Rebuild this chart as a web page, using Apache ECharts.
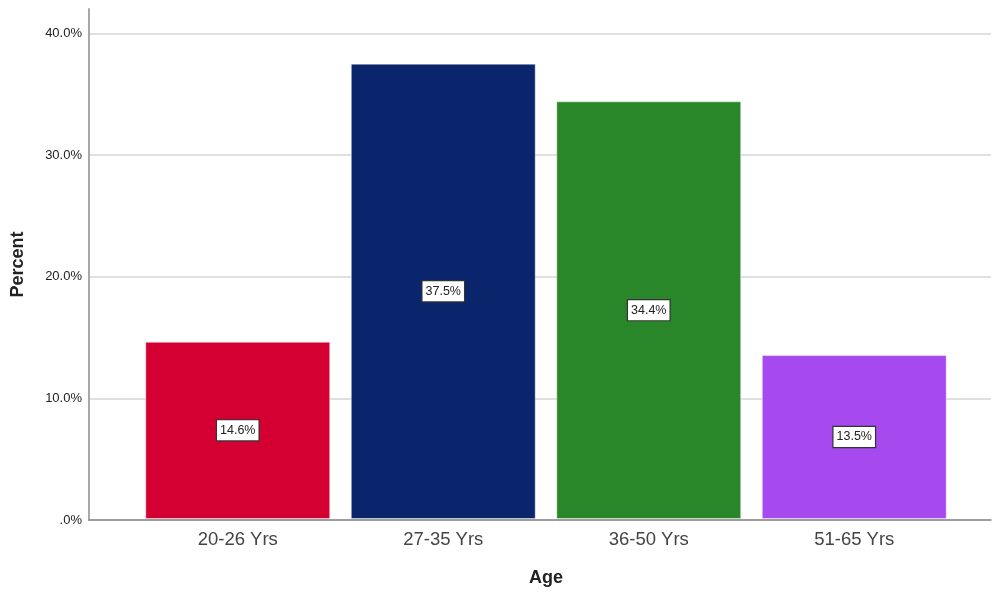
<!DOCTYPE html>
<html>
<head>
<meta charset="utf-8">
<script src="https://cdn.jsdelivr.net/npm/echarts@6/dist/echarts.min.js"></script>
<style>
  html, body { margin: 0; padding: 0; background: #ffffff; }
  #chart { width: 993px; height: 592px; }
</style>
</head>
<body>
<div id="chart"></div>
<script>
// Age groups and their share of respondents (percent)
const categories = ['20-26 Yrs', '27-35 Yrs', '36-50 Yrs', '51-65 Yrs'];
const percents = [14.6, 37.5, 34.4, 13.5];
const barColors = ['#D50032', '#0A256B', '#2A8729', '#A64AEF'];
const yTicks = [0, 10, 20, 30, 40];

const Y_MAX = 42;
const FONT = 'Liberation Sans, Arial, sans-serif';

const chart = echarts.init(document.getElementById('chart'), null, { renderer: 'canvas' });

const fmtPct = v => (v === 0 ? '.0%' : v.toFixed(1) + '%');

chart.setOption({
  animation: false,
  backgroundColor: '#ffffff',
  grid: [
    // frame grid: y axis, gridlines, baseline
    { left: 89, right: 2, top: 9, bottom: 72, containLabel: false },
    // bar grid: inset so the categories sit inside the frame
    { left: 135, right: 36, top: 9, bottom: 72, containLabel: false }
  ],
  xAxis: [
    {
      gridIndex: 0, type: 'value', min: 0, max: 1,
      axisLine: { show: true, onZero: false, lineStyle: { color: '#888888', width: 1.5 } },
      axisTick: { show: false }, axisLabel: { show: false }, splitLine: { show: false }
    },
    {
      gridIndex: 1, type: 'category', data: categories,
      axisLine: { show: false }, axisTick: { show: false },
      axisLabel: { color: '#444444', fontSize: 18.5, fontFamily: FONT, margin: 11 },
      name: 'Age', nameLocation: 'middle', nameGap: 50,
      nameTextStyle: { color: '#222222', fontSize: 18, fontWeight: 'bold', fontFamily: FONT }
    }
  ],
  yAxis: [
    {
      gridIndex: 0, type: 'value', min: 0, max: Y_MAX, interval: 10,
      axisLine: { show: true, lineStyle: { color: '#a8a8a8', width: 2 } },
      axisTick: { show: false },
      axisLabel: {
        color: '#222222', fontSize: 13, fontFamily: FONT, margin: 7,
        showMaxLabel: false,
        formatter: v => (yTicks.includes(v) ? fmtPct(v) : '')
      },
      splitLine: { show: true, showMaxLine: false, lineStyle: { color: '#d4d4d4', width: 1.5 } },
      name: 'Percent', nameLocation: 'middle', nameGap: 62, nameRotate: 90,
      nameTextStyle: { color: '#222222', fontSize: 18, fontWeight: 'bold', fontFamily: FONT }
    },
    {
      gridIndex: 1, type: 'value', min: 0, max: Y_MAX, interval: 10, show: false,
      splitLine: { show: false }
    }
  ],
  series: [
    {
      type: 'bar',
      xAxisIndex: 1, yAxisIndex: 1,
      barCategoryGap: '10%',
      data: percents.map((v, i) => ({
        value: v,
        itemStyle: { color: barColors[i], borderColor: 'rgba(255,255,255,0.45)', borderWidth: 1 }
      })),
      label: {
        show: true, position: 'inside',
        formatter: p => p.value.toFixed(1) + '%',
        color: '#222222', fontSize: 12.5, fontFamily: FONT,
        backgroundColor: '#ffffff', borderColor: '#333333', borderWidth: 1.2,
        padding: [4, 3, 3, 3]
      }
    }
  ]
});
</script>
</body>
</html>
